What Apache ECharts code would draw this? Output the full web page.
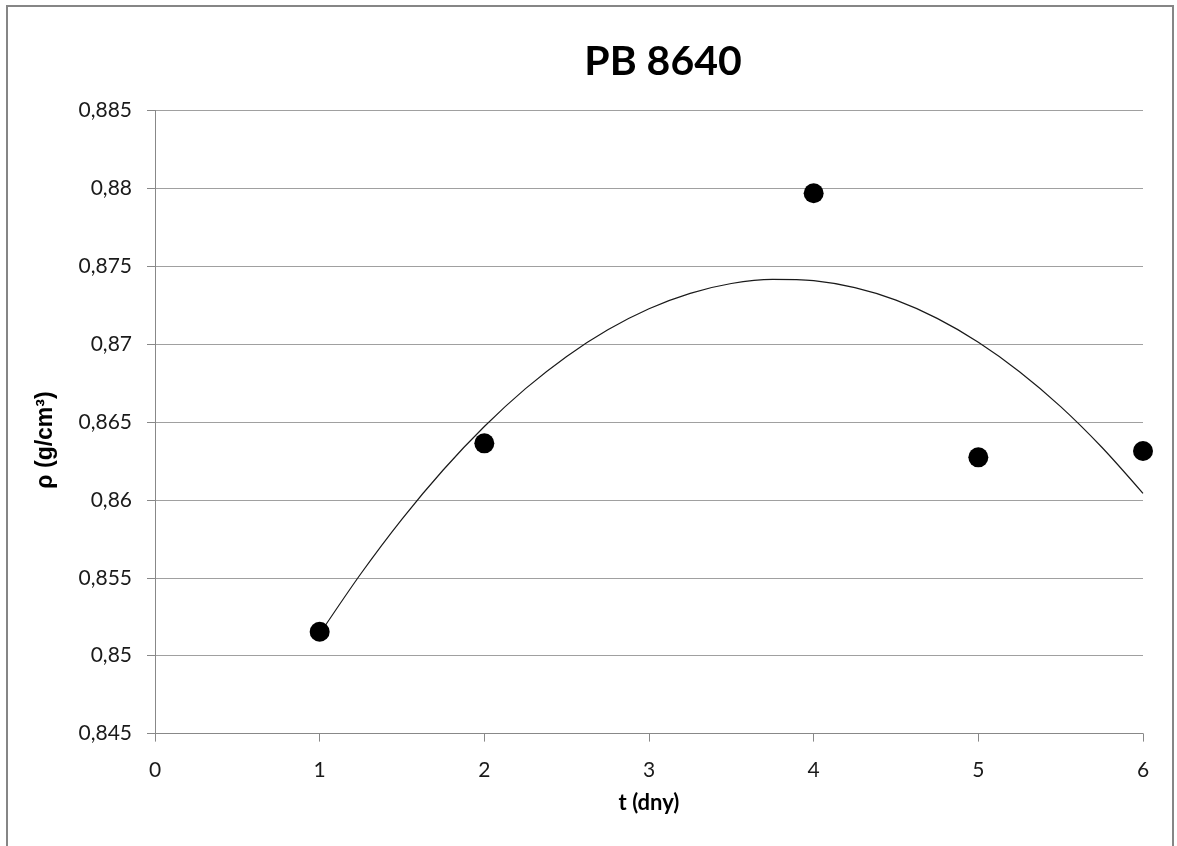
<!DOCTYPE html>
<html>
<head>
<meta charset="utf-8">
<script src="https://cdn.jsdelivr.net/npm/echarts@6/dist/echarts.min.js"></script>
<style>
html,body{margin:0;padding:0;background:#fff;}
#chart{width:1177px;height:846px;}
</style>
</head>
<body>
<div id="chart"></div>
<script>
// Measured points
const days = [1, 2, 4, 5, 6];
const density = [0.85154, 0.86363, 0.87968, 0.86273, 0.86314];
// Polynomial trendline, values
const trendX = [1, 1.25, 1.5, 1.75, 2, 2.25, 2.5, 2.75, 3, 3.25, 3.5, 3.75, 4, 4.25, 4.5, 4.75, 5, 5.25, 5.5, 5.75, 6];
const trendY = [0.8514, 0.85526, 0.85877, 0.86192, 0.86471, 0.86714, 0.86921, 0.87092, 0.87227, 0.87326, 0.87389, 0.87416, 0.87407, 0.87362, 0.87282, 0.87165, 0.87012, 0.86823, 0.86599, 0.86338, 0.86042];
const titleText = 'PB 8640';
const xName = 't (dny)';
const yName = 'ρ (g/cm³)';

const chart = echarts.init(document.getElementById('chart'), null, {renderer: 'canvas'});
const fmt = v => { let s = v.toFixed(3).replace(/0+$/, '').replace(/\.$/, ''); return s.replace('.', ','); };
const font = 'Lato, "Open Sans", sans-serif';

chart.setOption({
  backgroundColor: '#fff',
  animation: false,
  title: {
    text: titleText,
    left: 658, top: 36, textAlign: 'center',
    textStyle: {fontFamily: font, fontWeight: 'bold', fontSize: 41, color: '#000'}
  },
  graphic: [{
    type: 'rect', shape: {x: 7, y: 6, width: 1166, height: 850},
    style: {fill: 'none', stroke: '#868686', lineWidth: 2}, silent: true
  }],
  grid: {left: 155, right: 34, top: 110.4, bottom: 112.4, containLabel: false},
  xAxis: {
    type: 'value', min: 0, max: 6, interval: 1,
    name: xName, nameLocation: 'middle', nameGap: 58,
    nameTextStyle: {fontFamily: font, fontWeight: 'bold', fontSize: 22, color: '#000'},
    axisLine: {show: true, onZero: false, lineStyle: {color: '#888', width: 1}},
    axisTick: {show: true, length: 8, inside: false, lineStyle: {color: '#888'}},
    axisLabel: {margin: 26, fontFamily: font, fontSize: 21, color: '#1a1a1a', formatter: v => String(v)},
    splitLine: {show: false}
  },
  yAxis: {
    type: 'value', min: 0.845, max: 0.885, interval: 0.005,
    name: yName, nameLocation: 'middle', nameGap: 98, nameRotate: 90,
    nameTextStyle: {fontFamily: '"Liberation Sans", Arial, sans-serif', fontWeight: 'bold', fontSize: 23, color: '#000', padding: [0, 36, 0, 0]},
    axisLine: {show: true, lineStyle: {color: '#888', width: 1}},
    axisTick: {show: true, length: 8, inside: false, lineStyle: {color: '#888'}},
    axisLabel: {margin: 23, fontFamily: font, fontSize: 21, color: '#1a1a1a', formatter: fmt},
    splitLine: {show: true, lineStyle: {color: '#a0a0a0', width: 1}}
  },
  series: [
    {
      type: 'line', data: trendX.map((x, i) => [x, trendY[i]]),
      smooth: 0.3, showSymbol: false, symbol: 'none',
      lineStyle: {color: '#1a1a1a', width: 1.2}, z: 2
    },
    {
      type: 'scatter', data: days.map((x, i) => [x, density[i]]),
      symbol: 'circle', symbolSize: 20,
      itemStyle: {color: '#000', opacity: 1}, z: 3
    }
  ]
});
</script>
</body>
</html>
